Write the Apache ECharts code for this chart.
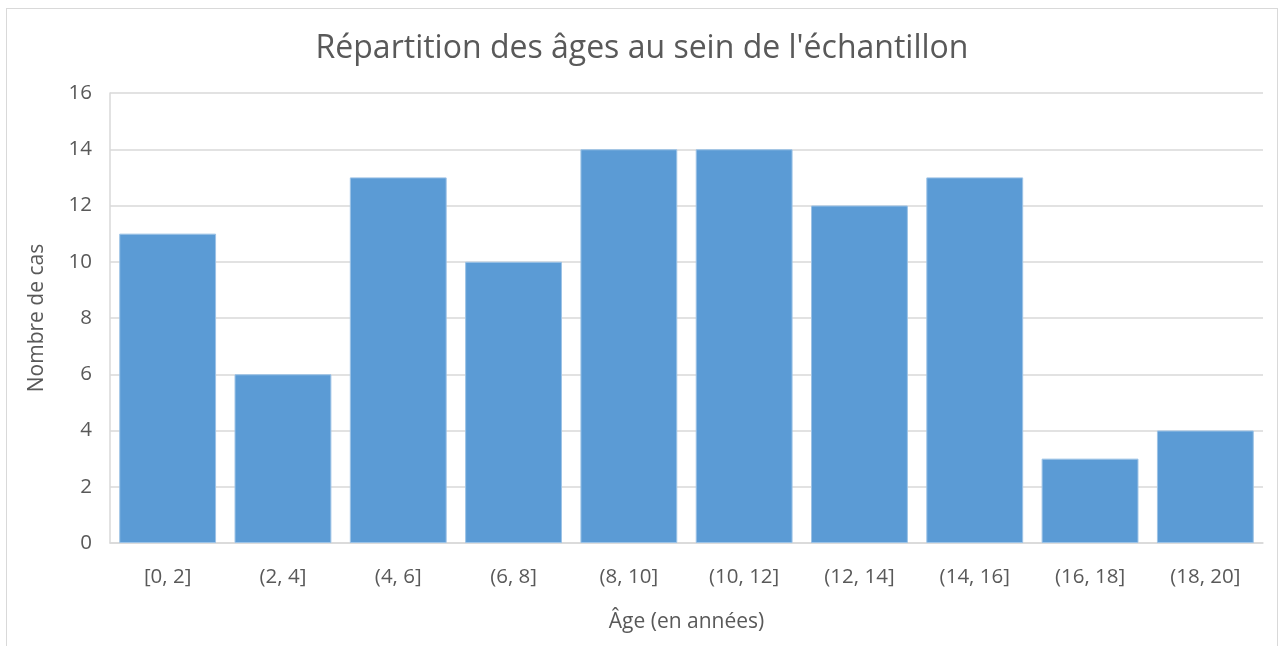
<!DOCTYPE html>
<html>
<head>
<meta charset="utf-8">
<script src="https://cdn.jsdelivr.net/npm/echarts@6/dist/echarts.min.js"></script>
<style>
  html, body { margin: 0; padding: 0; background: #fff; }
  #frame { position: absolute; left: 6px; top: 8px; width: 1272px; height: 650px; border: 1px solid #d9d9d9; box-sizing: border-box; }
  #chart { position: absolute; left: 0; top: 0; width: 1284px; height: 646px; }
</style>
</head>
<body>
<div id="frame"></div>
<div id="chart"></div>
<script>
// ── Data ─────────────────────────────────────────────────────────────────────
var categories = ['[0, 2]', '(2, 4]', '(4, 6]', '(6, 8]', '(8, 10]',
                  '(10, 12]', '(12, 14]', '(14, 16]', '(16, 18]', '(18, 20]'];
var counts = [11, 6, 13, 10, 14, 14, 12, 13, 3, 4];

var FONT = "'Open Sans', 'Noto Sans', sans-serif";
var GREY = '#595959';

var chart = echarts.init(document.getElementById('chart'), null, { renderer: 'canvas' });
chart.setOption({
  animation: false,
  title: {
    text: "Répartition des âges au sein de l'échantillon",
    left: 'center', top: 28,
    textStyle: { fontFamily: FONT, fontSize: 32, fontWeight: 'normal', color: GREY }
  },
  grid: { left: 110, right: 21, top: 93, bottom: 103 },
  xAxis: {
    type: 'category',
    data: categories,
    name: 'Âge (en années)',
    nameLocation: 'middle',
    nameGap: 69,
    nameTextStyle: { fontFamily: FONT, fontSize: 21, color: GREY },
    axisLine: { lineStyle: { color: '#d9d9d9', width: 1.5 } },
    axisTick: { show: false },
    axisLabel: { fontFamily: FONT, fontSize: 20.5, color: GREY, margin: 24 }
  },
  yAxis: {
    type: 'value',
    min: 0, max: 16, interval: 2,
    name: 'Nombre de cas',
    nameLocation: 'middle',
    nameGap: 62,
    nameTextStyle: { fontFamily: FONT, fontSize: 21, color: GREY },
    axisLine: { show: true, lineStyle: { color: '#d9d9d9', width: 1.5 } },
    axisTick: { show: false },
    axisLabel: { fontFamily: FONT, fontSize: 20.5, color: GREY, margin: 18 },
    splitLine: { lineStyle: { color: '#d9d9d9', width: 1.5 } }
  },
  series: [{
    type: 'bar',
    data: counts,
    barCategoryGap: '16%',
    itemStyle: { color: '#5b9bd5', borderColor: '#9dc3e6', borderWidth: 1 }
  }]
});
</script>
</body>
</html>
